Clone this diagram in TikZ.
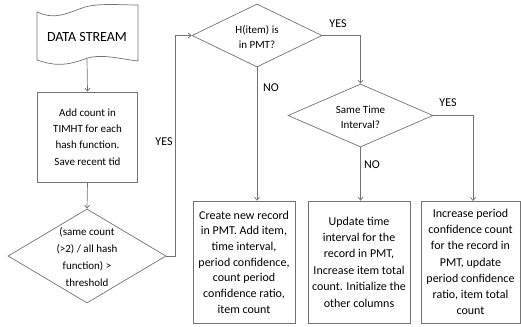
\documentclass[tikz,border=0pt]{standalone}
\usepackage{fontspec}
\setmainfont{Carlito}
\usetikzlibrary{shapes.geometric,arrows.meta}
\begin{document}
\begin{tikzpicture}[x=1pt,y=-1pt,
  line/.style={draw=black!55, line width=0.7pt},
  arr/.style={line, -{Straight Barb[length=3pt,width=5pt]}},
  box/.style={line, rectangle, inner sep=0, align=center, font=\fontsize{12}{16}\selectfont},
  dia/.style={line, diamond, inner sep=0},
  txt/.style={align=center, inner sep=0},
  lbl/.style={font=\fontsize{12}{14}\selectfont, inner sep=0}]
\useasboundingbox (0,0) rectangle (521,326);

% document shape
\draw[line] (37,12) .. controls (55,20) and (65,14) .. (85,7)
  .. controls (100,3) and (120,5) .. (138,5) -- (138,61)
  .. controls (120,59) and (100,53) .. (85,59)
  .. controls (65,66) and (55,66) .. (37,60) -- cycle;
\node[txt, font=\fontsize{14}{16}\selectfont] (ds) at (87,37) {DATA STREAM};
\coordinate (dsb) at (87,59);

\node[box, minimum width=100, minimum height=90, font=\fontsize{11}{16.3}\selectfont] (bA) at (87.5,137)
  {Add count in\\TIMHT for each\\hash function.\\Save recent tid};

\node[dia, minimum width=158, minimum height=94] (dA) at (87,256) {};
\node[txt, font=\fontsize{11}{16.7}\selectfont] (tA) at (87,257)
  {(same count\\(>2) / all hash\\function) >\\threshold};

\node[dia, minimum width=130, minimum height=63] (dH) at (257,35.5) {};
\node[txt, font=\fontsize{11}{15}\selectfont] (tH) at (257,37.5) {H(item) is\\in PMT?};

\node[dia, minimum width=145, minimum height=63] (dS) at (360.5,115.5) {};
\node[txt, font=\fontsize{11}{15}\selectfont] (tS) at (360.5,117.5) {Same Time\\Interval?};

\node[box, minimum width=102, minimum height=122, font=\fontsize{12}{15.7}\selectfont] (b1) at (244,262)
  {Create new record\\in PMT. Add item,\\time interval,\\period confidence,\\count period\\confidence ratio,\\item count};
\node[box, minimum width=102, minimum height=122, font=\fontsize{12}{16.4}\selectfont] (b2) at (359,262)
  {Update time\\interval for the\\record in PMT,\\Increase item total\\count. Initialize the\\other columns};
\node[box, minimum width=99, minimum height=122, font=\fontsize{12}{16.2}\selectfont] (b3) at (470.5,262)
  {Increase period\\confidence count\\for the record in\\PMT, update\\period confidence\\ratio, item total\\count};

\coordinate (c3) at (473,201);

\draw[arr] (dsb) -- (bA.north);
\draw[arr] (bA.south) -- (dA.north);
\draw[arr] (dA.east) -- ++(9,0) |- (dH.west);
\draw[arr] (dH.south) -- (dH.south |- b1.north);
\draw[arr] (dH.east) -| (dS.north);
\draw[arr] (dS.south) -- (dS.south |- b2.north);
\draw[arr] (dS.east) -| (c3);

\node[lbl] (y1) at (164,142) {YES};
\node[lbl] (n1) at (271,88) {NO};
\node[lbl] (y2) at (338,24) {YES};
\node[lbl] (n2) at (372,165) {NO};
\node[lbl] (y3) at (448,103) {YES};
\end{tikzpicture}
\end{document}
